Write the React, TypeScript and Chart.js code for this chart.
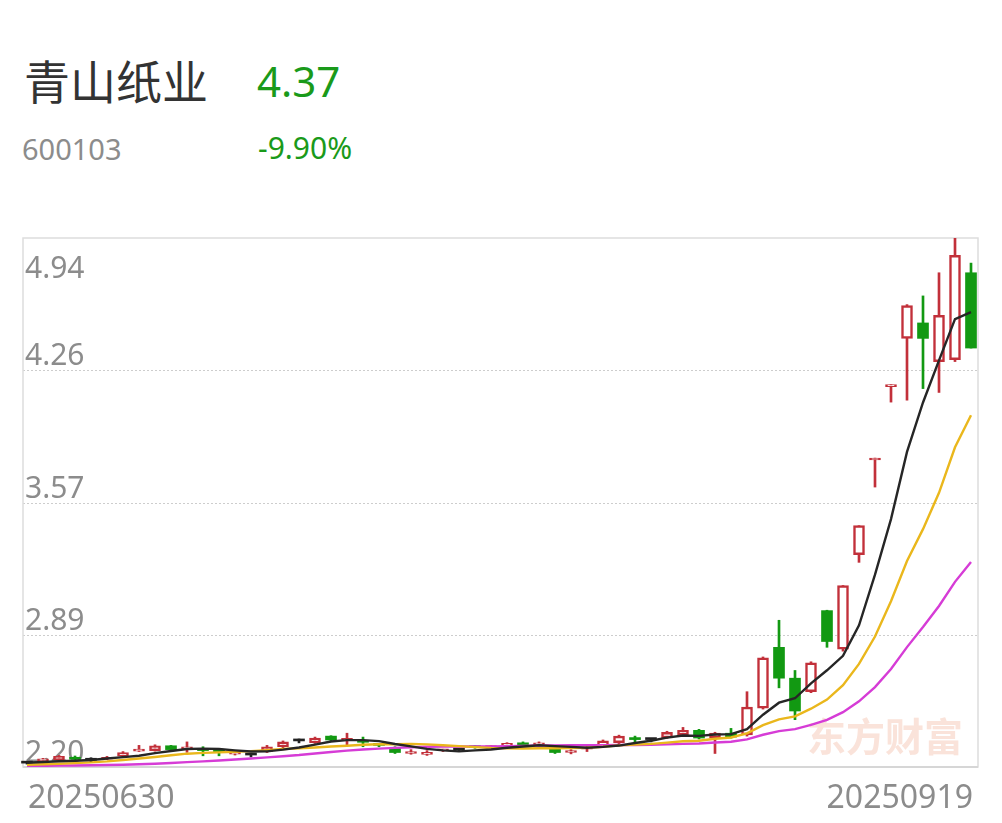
import React, { useEffect, useRef } from "react";
import { Chart, registerables } from "chart.js";

Chart.register(...registerables);

const dates = [
  "20250630",
  "20250701", "20250702", "20250703", "20250704", "20250707", "20250708", "20250709", "20250710", "20250711",
  "20250714", "20250715", "20250716", "20250717", "20250718", "20250721", "20250722", "20250723", "20250724",
  "20250725", "20250728", "20250729", "20250730", "20250731",
  "20250801", "20250804", "20250805", "20250806", "20250807", "20250808", "20250811", "20250812", "20250813",
  "20250814", "20250815", "20250818", "20250819", "20250820", "20250821", "20250822", "20250825", "20250826",
  "20250827", "20250828", "20250829",
  "20250901", "20250902", "20250903", "20250904", "20250905", "20250908", "20250909", "20250910", "20250911",
  "20250912", "20250915", "20250916", "20250917", "20250918", "20250919",
];

const opens = [
  2.22, 2.232, 2.238, 2.25, 2.235, 2.24, 2.256, 2.282, 2.285, 2.31,
  2.294, 2.295, 2.286, 2.266, 2.262, 2.28, 2.305, 2.335, 2.326, 2.36,
  2.338, 2.336, 2.318, 2.3, 2.27, 2.265, 2.284, 2.288, 2.306, 2.3,
  2.312, 2.325, 2.315, 2.3, 2.275, 2.292, 2.305, 2.326, 2.348, 2.342,
  2.35, 2.366, 2.39, 2.35, 2.375, 2.366, 2.505, 2.82, 2.66, 2.59,
  3.01, 2.81, 3.3, 3.79, 4.17, 4.42, 4.5, 4.3, 4.31, 4.76,
];
const highs = [
  2.228, 2.245, 2.26, 2.257, 2.248, 2.255, 2.28, 2.312, 2.315, 2.312,
  2.33, 2.305, 2.292, 2.28, 2.27, 2.312, 2.335, 2.345, 2.355, 2.362,
  2.375, 2.355, 2.322, 2.305, 2.29, 2.285, 2.292, 2.296, 2.31, 2.31,
  2.326, 2.33, 2.33, 2.302, 2.29, 2.314, 2.34, 2.365, 2.36, 2.346,
  2.385, 2.405, 2.395, 2.38, 2.4, 2.59, 2.77, 2.96, 2.7, 2.745,
  3.012, 3.14, 3.45, 3.8, 4.18, 4.595, 4.64, 4.76, 4.94, 4.81,
];
const lows = [
  2.215, 2.228, 2.235, 2.232, 2.226, 2.238, 2.252, 2.28, 2.282, 2.286,
  2.276, 2.258, 2.258, 2.262, 2.252, 2.275, 2.3, 2.325, 2.322, 2.336,
  2.315, 2.305, 2.305, 2.27, 2.266, 2.26, 2.28, 2.283, 2.297, 2.297,
  2.31, 2.312, 2.31, 2.27, 2.268, 2.28, 2.3, 2.32, 2.325, 2.33,
  2.348, 2.362, 2.345, 2.27, 2.35, 2.36, 2.5, 2.61, 2.445, 2.585,
  2.82, 2.8, 3.26, 3.65, 4.09, 4.1, 4.16, 4.14, 4.3, 4.37,
];
const closes = [
  2.22, 2.24, 2.255, 2.24, 2.235, 2.25, 2.275, 2.29, 2.31, 2.29,
  2.3, 2.285, 2.28, 2.275, 2.262, 2.305, 2.33, 2.335, 2.35, 2.34,
  2.342, 2.328, 2.312, 2.275, 2.28, 2.275, 2.288, 2.288, 2.3, 2.304,
  2.322, 2.315, 2.325, 2.275, 2.285, 2.3, 2.335, 2.36, 2.342, 2.342,
  2.38, 2.39, 2.35, 2.376, 2.355, 2.51, 2.765, 2.66, 2.49, 2.74,
  2.85, 3.14, 3.45, 3.8, 4.18, 4.59, 4.42, 4.54, 4.85, 4.37,
];

const ma5 = [
  2.222, 2.226, 2.23, 2.232, 2.236, 2.244, 2.251, 2.258, 2.272, 2.283,
  2.293, 2.295, 2.293, 2.286, 2.28, 2.281, 2.29, 2.301, 2.316, 2.332,
  2.339, 2.339, 2.334, 2.319, 2.307, 2.294, 2.286, 2.281, 2.286, 2.291,
  2.3, 2.306, 2.313, 2.308, 2.304, 2.3, 2.304, 2.311, 2.324, 2.336,
  2.352, 2.363, 2.361, 2.368, 2.37, 2.396, 2.471, 2.533, 2.556, 2.633,
  2.701, 2.776, 2.934, 3.196, 3.484, 3.832, 4.088, 4.306, 4.52, 4.556,
];
const ma10 = [
  2.212, 2.214, 2.217, 2.22, 2.224, 2.229, 2.236, 2.244, 2.252, 2.261,
  2.269, 2.273, 2.276, 2.279, 2.282, 2.287, 2.293, 2.297, 2.301, 2.306,
  2.31, 2.315, 2.318, 2.318, 2.32, 2.317, 2.313, 2.308, 2.303, 2.299,
  2.297, 2.296, 2.297, 2.297, 2.298, 2.3, 2.305, 2.312, 2.316, 2.32,
  2.326, 2.333, 2.336, 2.346, 2.353, 2.374, 2.417, 2.447, 2.462, 2.502,
  2.549, 2.624, 2.734, 2.876, 3.059, 3.267, 3.432, 3.62, 3.856, 4.022,
];
const ma20 = [
  2.205, 2.206, 2.207, 2.208, 2.209, 2.21, 2.212, 2.214, 2.217, 2.221,
  2.225, 2.229, 2.234, 2.239, 2.244, 2.25, 2.256, 2.262, 2.27, 2.278,
  2.285, 2.291, 2.295, 2.299, 2.302, 2.305, 2.306, 2.306, 2.306, 2.307,
  2.308, 2.309, 2.311, 2.312, 2.313, 2.313, 2.313, 2.314, 2.314, 2.315,
  2.317, 2.32, 2.322, 2.327, 2.331, 2.343, 2.367, 2.386, 2.396, 2.418,
  2.444, 2.484, 2.54, 2.614, 2.708, 2.821, 2.925, 3.034, 3.159, 3.262,
];

const yTickValues = [2.2, 2.885, 3.57, 4.255, 4.94];
const yTickLabels = ["2.20", "2.89", "3.57", "4.26", "4.94"];

const RED = "#c2303a";
const GREEN = "#129912";
const DOJI = "#222222";
const GRAY_TEXT = "#8c8c8c";

const candleColors = closes.map((c, i) =>
  c > opens[i] ? RED : c < opens[i] ? GREEN : DOJI
);

const decorPlugin = {
  id: "decor",
  beforeDatasetsDraw(chart: any) {
    const { ctx } = chart;
    const x = chart.scales.x;
    const y = chart.scales.y;
    const left = 23;
    const right = 978;
    const top = y.getPixelForValue(yTickValues[yTickValues.length - 1]);
    const bottom = y.getPixelForValue(yTickValues[0]);
    ctx.save();
    // watermark
    ctx.font = 'bold 39px "Noto Sans CJK SC"';
    ctx.fillStyle = "#fae3da";
    ctx.textBaseline = "alphabetic";
    ctx.textAlign = "left";
    ctx.fillText("东方财富", 807, 751);
    // dotted grid lines
    ctx.strokeStyle = "#cdcdcd";
    ctx.lineWidth = 1;
    ctx.setLineDash([2, 2]);
    yTickValues.slice(1, -1).forEach((v) => {
      const py = Math.round(y.getPixelForValue(v)) + 0.5;
      ctx.beginPath();
      ctx.moveTo(left, py);
      ctx.lineTo(right, py);
      ctx.stroke();
    });
    ctx.setLineDash([]);
    // frame
    ctx.strokeStyle = "#dddddd";
    ctx.lineWidth = 1.5;
    ctx.strokeRect(left, top, right - left, bottom - top);
    ctx.strokeStyle = "#d6d6d6";
    ctx.lineWidth = 2;
    ctx.beginPath();
    ctx.moveTo(left, bottom);
    ctx.lineTo(right, bottom);
    ctx.stroke();
    // y labels
    ctx.font = '30px "Noto Sans"';
    ctx.fillStyle = GRAY_TEXT;
    yTickValues.forEach((v, i) => {
      let py = y.getPixelForValue(v) - 5;
      if (i === yTickValues.length - 1) py = top + 40;
      ctx.fillText(yTickLabels[i], 25, py);
    });
    // x labels
    ctx.font = '32px "Noto Sans"';
    ctx.textAlign = "left";
    ctx.fillText(dates[0], x.getPixelForValue(0) + 1, 808);
    ctx.textAlign = "right";
    ctx.fillText(dates[dates.length - 1], x.getPixelForValue(dates.length - 1) + 2, 808);
    ctx.restore();
  },
};

export default function App() {
  const canvasRef = useRef<HTMLCanvasElement | null>(null);

  useEffect(() => {
    if (!canvasRef.current) return;
    const chart = new Chart(canvasRef.current, {
      type: "bar",
      data: {
        labels: dates,
        datasets: [
          {
            type: "line",
            label: "MA5",
            data: ma5,
            borderColor: "#262626",
            borderWidth: 2.4,
            pointRadius: 0,
            tension: 0,
            order: 0,
          } as any,
          {
            type: "line",
            label: "MA10",
            data: ma10,
            borderColor: "#eab71c",
            borderWidth: 2.4,
            pointRadius: 0,
            tension: 0,
            order: 0,
          } as any,
          {
            type: "line",
            label: "MA20",
            data: ma20,
            borderColor: "#d63cd6",
            borderWidth: 2.4,
            pointRadius: 0,
            tension: 0,
            order: 0,
          } as any,
          {
            type: "bar",
            label: "body",
            data: opens.map((o, i) => [o, closes[i]]),
            backgroundColor: candleColors.map((c) => (c === RED ? "#ffffff" : c)),
            borderColor: candleColors,
            borderWidth: candleColors.map((c) => (c === RED ? 2.5 : 0)),
            borderSkipped: false,
            barThickness: 11,
            minBarLength: 2,
            grouped: false,
            order: 1,
          } as any,
          {
            type: "bar",
            label: "wick",
            data: lows.map((l, i) => [l, highs[i]]),
            backgroundColor: candleColors,
            borderWidth: 0,
            barThickness: 2,
            grouped: false,
            order: 2,
          } as any,
        ],
      },
      options: {
        animation: false,
        responsive: false,
        events: [],
        layout: { padding: { left: 19, right: 23, top: 238, bottom: 56 } },
        plugins: { legend: { display: false }, tooltip: { enabled: false } },
        scales: {
          x: { type: "category", offset: true, display: false },
          y: { type: "linear", min: 2.2, max: 4.94, display: false },
        },
      },
      plugins: [decorPlugin],
    } as any);
    return () => chart.destroy();
  }, []);

  return (
    <div style={{ position: "absolute", left: 0, top: 0, width: 1002, height: 823, background: "#fff", overflow: "hidden" }}>
      <div style={{ position: "absolute", left: 24, top: 56, fontFamily: '"Noto Sans CJK SC"', fontSize: 46, lineHeight: "46px", color: "#333", whiteSpace: "nowrap" }}>
        青山纸业
      </div>
      <div style={{ position: "absolute", left: 257, top: 60, fontFamily: '"Noto Sans"', fontSize: 42, lineHeight: "42px", color: "#1a9a1a", whiteSpace: "nowrap" }}>
        4.37
      </div>
      <div style={{ position: "absolute", left: 22, top: 134, fontFamily: '"Noto Sans"', fontSize: 29, lineHeight: "29px", color: GRAY_TEXT, whiteSpace: "nowrap" }}>
        600103
      </div>
      <div style={{ position: "absolute", left: 258, top: 133, fontFamily: '"Noto Sans"', fontSize: 30, lineHeight: "30px", color: "#1a9a1a", whiteSpace: "nowrap" }}>
        -9.90%
      </div>
      <canvas ref={canvasRef} width={1002} height={823} style={{ position: "absolute", left: 0, top: 0, width: 1002, height: 823 }} />
    </div>
  );
}
